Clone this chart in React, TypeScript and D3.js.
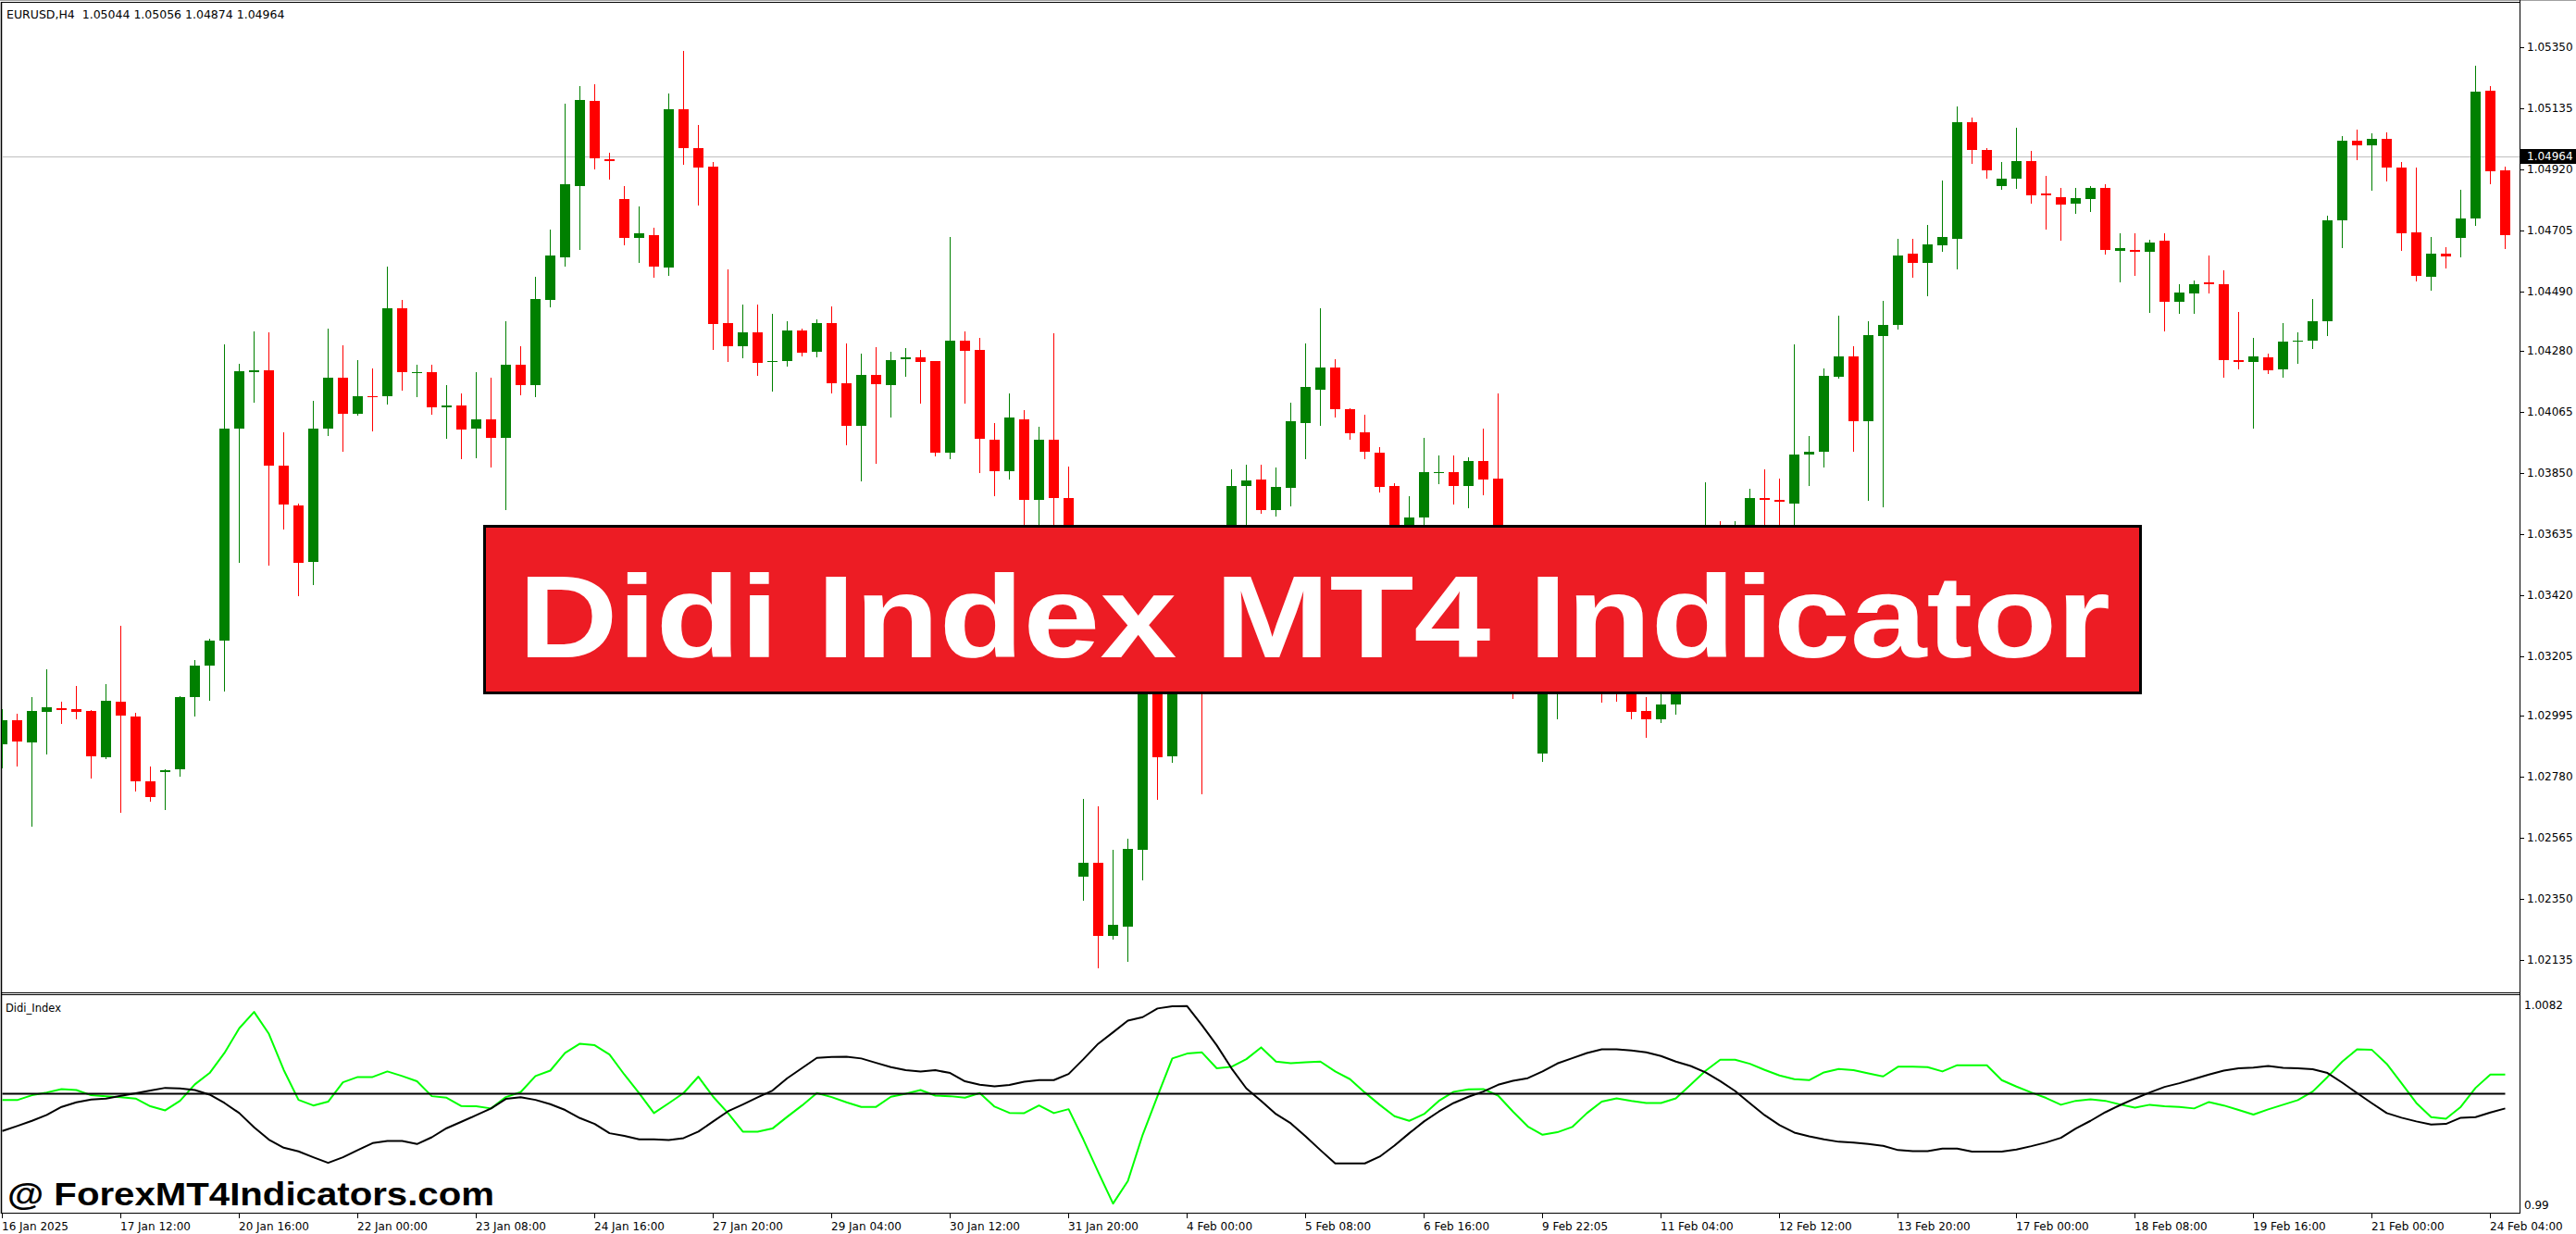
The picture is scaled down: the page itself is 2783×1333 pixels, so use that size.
import React from 'react';
import * as d3 from 'd3';

// ---------- data ----------
const header = 'EURUSD,H4  1.05044 1.05056 1.04874 1.04964';
const indicatorName = 'Didi_Index';
const watermark = '@ ForexMT4Indicators.com';
const bannerText = 'Didi Index MT4 Indicator';
const lastPrice = 1.04964;

const timeLabels = [
  '16 Jan 2025', '17 Jan 12:00', '20 Jan 16:00', '22 Jan 00:00', '23 Jan 08:00', '24 Jan 16:00',
  '27 Jan 20:00', '29 Jan 04:00', '30 Jan 12:00', '31 Jan 20:00', '4 Feb 00:00', '5 Feb 08:00',
  '6 Feb 16:00', '9 Feb 22:05', '11 Feb 04:00', '12 Feb 12:00', '13 Feb 20:00', '17 Feb 00:00',
  '18 Feb 08:00', '19 Feb 16:00', '21 Feb 00:00', '24 Feb 04:00',
];
const barsPerLabel = 8;

const priceTicks = [
  1.05350, 1.05135, 1.04920, 1.04705, 1.04490, 1.04280, 1.04065, 1.03850,
  1.03635, 1.03420, 1.03205, 1.02995, 1.02780, 1.02565, 1.02350, 1.02135,
];
const priceDomain = [1.02018, 1.05506];
const indicatorTicks = [1.0082, 0.99];
const indicatorLevel = 1.0;

const openP = [
  1.02894, 1.02980, 1.02903, 1.03008, 1.03021, 1.03019, 1.03011, 1.02848, 1.03045, 1.02993,
  1.02766, 1.02797, 1.02807, 1.03060, 1.03173, 1.03259, 1.04007, 1.04206, 1.04213, 1.03877,
  1.03737, 1.03538, 1.04007, 1.04185, 1.04059, 1.04122, 1.04120, 1.04431, 1.04202, 1.04206,
  1.04081, 1.04089, 1.04007, 1.04038, 1.03975, 1.04230, 1.04161, 1.04459, 1.04610, 1.04861,
  1.05162, 1.04956, 1.04816, 1.04677, 1.04688, 1.04574, 1.05131, 1.04995, 1.04930, 1.04379,
  1.04297, 1.04347, 1.04241, 1.04245, 1.04353, 1.04278, 1.04379, 1.04167, 1.04016, 1.04197,
  1.04161, 1.04252, 1.04256, 1.04243, 1.03921, 1.04316, 1.04282, 1.03968, 1.03856, 1.04040,
  1.03756, 1.03968, 1.03763, 1.02429, 1.02477, 1.02219, 1.02254, 1.02524, 1.03257, 1.02853,
  1.03300, 1.03473, 1.03344, 1.03538, 1.03806, 1.03826, 1.03718, 1.03798, 1.04027, 1.04143,
  1.04223, 1.04076, 1.03994, 1.03923, 1.03806, 1.03581, 1.03694, 1.03849, 1.03854, 1.03804,
  1.03893, 1.03832, 1.03365, 1.03149, 1.02861, 1.03149, 1.03192, 1.03235, 1.03171, 1.03149,
  1.03084, 1.03013, 1.02982, 1.03034, 1.03149, 1.03214, 1.03516, 1.03473, 1.03581, 1.03763,
  1.03756, 1.03743, 1.03914, 1.03925, 1.04189, 1.04262, 1.04033, 1.04332, 1.04370, 1.04621,
  1.04591, 1.04651, 1.04675, 1.05084, 1.04989, 1.04861, 1.04887, 1.04950, 1.04833, 1.04822,
  1.04798, 1.04816, 1.04853, 1.04634, 1.04636, 1.04630, 1.04667, 1.04453, 1.04483, 1.04522,
  1.04515, 1.04249, 1.04241, 1.04258, 1.04215, 1.04312, 1.04316, 1.04386, 1.04740, 1.05019,
  1.05004, 1.05028, 1.04926, 1.04699, 1.04541, 1.04621, 1.04677, 1.04747, 1.05196, 1.04917,
];
const highP = [
  1.03019, 1.03002, 1.03062, 1.03158, 1.03045, 1.03099, 1.03015, 1.03108, 1.03311, 1.03006,
  1.02818, 1.02807, 1.03065, 1.03192, 1.03268, 1.04303, 1.04236, 1.04349, 1.04347, 1.03994,
  1.03741, 1.04105, 1.04360, 1.04301, 1.04249, 1.04217, 1.04578, 1.04461, 1.04232, 1.04232,
  1.04161, 1.04130, 1.04206, 1.04185, 1.04383, 1.04295, 1.04541, 1.04708, 1.05151, 1.05211,
  1.05218, 1.04978, 1.04859, 1.04790, 1.04714, 1.05188, 1.05335, 1.05077, 1.04946, 1.04567,
  1.04444, 1.04444, 1.04412, 1.04386, 1.04357, 1.04392, 1.04437, 1.04308, 1.04271, 1.04293,
  1.04277, 1.04290, 1.04282, 1.04245, 1.04680, 1.04349, 1.04327, 1.04027, 1.04130, 1.04072,
  1.04012, 1.04342, 1.03873, 1.02704, 1.02678, 1.02522, 1.02563, 1.03300, 1.03365, 1.03344,
  1.03603, 1.03581, 1.03625, 1.03862, 1.03880, 1.03880, 1.03871, 1.04098, 1.04308, 1.04429,
  1.04252, 1.04079, 1.04057, 1.03940, 1.03815, 1.03767, 1.03973, 1.03912, 1.03912, 1.03906,
  1.04005, 1.04130, 1.03473, 1.03257, 1.03171, 1.03257, 1.03279, 1.03300, 1.03257, 1.03214,
  1.03149, 1.03062, 1.03073, 1.03171, 1.03257, 1.03819, 1.03681, 1.03681, 1.03795, 1.03862,
  1.03832, 1.04303, 1.03979, 1.04219, 1.04403, 1.04295, 1.04386, 1.04455, 1.04675, 1.04675,
  1.04725, 1.04881, 1.05142, 1.05103, 1.04993, 1.04946, 1.05067, 1.04984, 1.04898, 1.04855,
  1.04853, 1.04859, 1.04866, 1.04695, 1.04695, 1.04673, 1.04695, 1.04515, 1.04528, 1.04617,
  1.04565, 1.04416, 1.04327, 1.04269, 1.04379, 1.04347, 1.04463, 1.04757, 1.05038, 1.05060,
  1.05047, 1.05051, 1.04946, 1.04926, 1.04682, 1.04647, 1.04848, 1.05285, 1.05211, 1.04928,
];
const lowP = [
  1.02814, 1.02820, 1.02608, 1.02861, 1.02970, 1.02987, 1.02777, 1.02846, 1.02656, 1.02732,
  1.02697, 1.02667, 1.02784, 1.02995, 1.03052, 1.03084, 1.03538, 1.04100, 1.03527, 1.03653,
  1.03419, 1.03458, 1.03983, 1.03927, 1.04057, 1.04001, 1.04094, 1.04143, 1.04120, 1.04059,
  1.03975, 1.03901, 1.03906, 1.03873, 1.03722, 1.04128, 1.04120, 1.04437, 1.04580, 1.04638,
  1.04922, 1.04887, 1.04656, 1.04593, 1.04541, 1.04548, 1.04939, 1.04796, 1.04286, 1.04245,
  1.04258, 1.04195, 1.04139, 1.04228, 1.04265, 1.04260, 1.04133, 1.03951, 1.03823, 1.03886,
  1.04048, 1.04193, 1.04098, 1.03912, 1.03901, 1.04098, 1.03854, 1.03772, 1.03830, 1.03625,
  1.03646, 1.03603, 1.03560, 1.02347, 1.02109, 1.02211, 1.02133, 1.02420, 1.02704, 1.02833,
  1.03257, 1.02723, 1.03257, 1.03473, 1.03625, 1.03711, 1.03700, 1.03735, 1.03903, 1.04018,
  1.04048, 1.03971, 1.03901, 1.03785, 1.03560, 1.03538, 1.03635, 1.03815, 1.03743, 1.03730,
  1.03776, 1.03322, 1.03058, 1.03084, 1.02835, 1.02987, 1.03106, 1.03073, 1.03045, 1.03047,
  1.02987, 1.02922, 1.02974, 1.03002, 1.03106, 1.03171, 1.03365, 1.03430, 1.03538, 1.03603,
  1.03625, 1.03625, 1.03808, 1.03873, 1.04187, 1.03927, 1.03756, 1.03733, 1.04357, 1.04541,
  1.04476, 1.04632, 1.04569, 1.04941, 1.04889, 1.04850, 1.04853, 1.04803, 1.04712, 1.04673,
  1.04766, 1.04773, 1.04621, 1.04524, 1.04548, 1.04418, 1.04351, 1.04414, 1.04414, 1.04485,
  1.04189, 1.04219, 1.04009, 1.04202, 1.04189, 1.04239, 1.04290, 1.04336, 1.04645, 1.04954,
  1.04848, 1.04881, 1.04636, 1.04528, 1.04496, 1.04574, 1.04613, 1.04723, 1.04870, 1.04643,
];
const closeP = [
  1.02980, 1.02905, 1.03011, 1.03024, 1.03017, 1.03008, 1.02853, 1.03049, 1.02995, 1.02764,
  1.02710, 1.02805, 1.03062, 1.03173, 1.03261, 1.04007, 1.04210, 1.04213, 1.03875, 1.03739,
  1.03534, 1.04007, 1.04187, 1.04059, 1.04122, 1.04117, 1.04431, 1.04206, 1.04206, 1.04081,
  1.04089, 1.04003, 1.04038, 1.03975, 1.04232, 1.04161, 1.04463, 1.04615, 1.04866, 1.05164,
  1.04959, 1.04950, 1.04677, 1.04693, 1.04578, 1.05131, 1.04993, 1.04926, 1.04375, 1.04297,
  1.04347, 1.04239, 1.04245, 1.04353, 1.04273, 1.04377, 1.04167, 1.04016, 1.04197, 1.04163,
  1.04249, 1.04256, 1.04241, 1.03921, 1.04316, 1.04280, 1.03971, 1.03856, 1.04044, 1.03756,
  1.03966, 1.03763, 1.03592, 1.02477, 1.02219, 1.02258, 1.02528, 1.03257, 1.02848, 1.03300,
  1.03473, 1.03344, 1.03516, 1.03806, 1.03823, 1.03718, 1.03800, 1.04031, 1.04152, 1.04223,
  1.04074, 1.03990, 1.03925, 1.03802, 1.03603, 1.03694, 1.03852, 1.03854, 1.03804, 1.03893,
  1.03828, 1.03365, 1.03149, 1.03106, 1.03149, 1.03192, 1.03235, 1.03171, 1.03149, 1.03071,
  1.03008, 1.02982, 1.03034, 1.03149, 1.03214, 1.03516, 1.03473, 1.03581, 1.03763, 1.03754,
  1.03748, 1.03916, 1.03925, 1.04193, 1.04262, 1.04033, 1.04336, 1.04373, 1.04617, 1.04591,
  1.04654, 1.04680, 1.05084, 1.04987, 1.04915, 1.04887, 1.04950, 1.04829, 1.04827, 1.04796,
  1.04818, 1.04853, 1.04636, 1.04641, 1.04630, 1.04662, 1.04453, 1.04487, 1.04515, 1.04515,
  1.04247, 1.04241, 1.04260, 1.04213, 1.04314, 1.04316, 1.04386, 1.04740, 1.05019, 1.05004,
  1.05028, 1.04926, 1.04695, 1.04543, 1.04623, 1.04613, 1.04745, 1.05194, 1.04913, 1.04688,
];

const didiFast = [
  0.99946, 0.99946, 0.99987, 1.00010, 1.00039, 1.00031, 0.99987, 0.99979, 0.99971, 0.99959,
  0.99894, 0.99860, 0.99940, 1.00078, 1.00174, 1.00342, 1.00550, 1.00687, 1.00503, 1.00200,
  0.99948, 0.99901, 0.99933, 1.00096, 1.00140, 1.00140, 1.00187, 1.00148, 1.00104, 0.99979,
  0.99966, 0.99896, 0.99894, 0.99876, 0.99971, 1.00013, 1.00148, 1.00194, 1.00342, 1.00420,
  1.00407, 1.00329, 1.00161, 1.00005, 0.99837, 0.99920, 1.00005, 1.00143, 0.99974, 0.99837,
  0.99681, 0.99681, 0.99707, 0.99806, 0.99901, 1.00005, 0.99971, 0.99927, 0.99889, 0.99889,
  0.99974, 1.00000, 1.00031, 0.99984, 0.99979, 0.99966, 1.00005, 0.99891, 0.99839, 0.99837,
  0.99901, 0.99837, 0.99870, 0.99614, 0.99341, 0.99077, 0.99266, 0.99655, 0.99979, 1.00296,
  1.00337, 1.00347, 1.00213, 1.00226, 1.00290, 1.00389, 1.00270, 1.00257, 1.00264, 1.00270,
  1.00187, 1.00122, 1.00010, 0.99907, 0.99811, 0.99772, 0.99829, 0.99940, 1.00016, 1.00036,
  1.00039, 0.99984, 0.99850, 0.99725, 0.99655, 0.99676, 0.99720, 0.99837, 0.99933, 0.99961,
  0.99940, 0.99922, 0.99922, 0.99961, 1.00075, 1.00192, 1.00285, 1.00285, 1.00251, 1.00200,
  1.00153, 1.00122, 1.00114, 1.00179, 1.00207, 1.00197, 1.00171, 1.00145, 1.00226, 1.00226,
  1.00223, 1.00187, 1.00239, 1.00239, 1.00239, 1.00114, 1.00060, 1.00010, 0.99964, 0.99907,
  0.99940, 0.99953, 0.99940, 0.99909, 0.99883, 0.99907, 0.99894, 0.99889, 0.99876, 0.99930,
  0.99901, 0.99863, 0.99824, 0.99868, 0.99907, 0.99946, 1.00018, 1.00140, 1.00270, 1.00373,
  1.00368, 1.00251, 1.00088, 0.99922, 0.99803, 0.99790, 0.99889, 1.00049, 1.00161, 1.00161,
];
const didiSlow = [
  0.99686, 0.99728, 0.99772, 0.99821, 0.99889, 0.99927, 0.99951, 0.99959, 0.99982, 1.00003,
  1.00026, 1.00049, 1.00044, 1.00031, 0.99992, 0.99922, 0.99837, 0.99717, 0.99614, 0.99546,
  0.99515, 0.99466, 0.99419, 0.99466, 0.99526, 0.99585, 0.99603, 0.99603, 0.99577, 0.99634,
  0.99710, 0.99764, 0.99819, 0.99876, 0.99956, 0.99971, 0.99948, 0.99912, 0.99863, 0.99795,
  0.99746, 0.99668, 0.99645, 0.99616, 0.99616, 0.99611, 0.99627, 0.99681, 0.99767, 0.99852,
  0.99909, 0.99969, 1.00026, 1.00130, 1.00215, 1.00301, 1.00309, 1.00311, 1.00296, 1.00259,
  1.00223, 1.00197, 1.00187, 1.00197, 1.00174, 1.00104, 1.00075, 1.00062, 1.00073, 1.00101,
  1.00114, 1.00114, 1.00166, 1.00290, 1.00420, 1.00516, 1.00614, 1.00643, 1.00716, 1.00734,
  1.00736, 1.00576, 1.00407, 1.00213, 1.00044, 0.99940, 0.99829, 0.99751, 0.99642, 0.99526,
  0.99414, 0.99414, 0.99414, 0.99471, 0.99564, 0.99668, 0.99767, 0.99850, 0.99922, 0.99974,
  1.00018, 1.00075, 1.00109, 1.00130, 1.00187, 1.00254, 1.00298, 1.00342, 1.00373, 1.00373,
  1.00363, 1.00347, 1.00316, 1.00270, 1.00233, 1.00179, 1.00106, 1.00023, 0.99920, 0.99819,
  0.99736, 0.99673, 0.99642, 0.99616, 0.99596, 0.99590, 0.99577, 0.99562, 0.99526, 0.99518,
  0.99518, 0.99539, 0.99539, 0.99513, 0.99513, 0.99513, 0.99531, 0.99559, 0.99590, 0.99629,
  0.99707, 0.99772, 0.99844, 0.99904, 0.99959, 1.00010, 1.00057, 1.00088, 1.00124, 1.00161,
  1.00194, 1.00213, 1.00220, 1.00233, 1.00218, 1.00213, 1.00205, 1.00174, 1.00093, 1.00005,
  0.99920, 0.99837, 0.99798, 0.99767, 0.99741, 0.99746, 0.99798, 0.99803, 0.99842, 0.99876,
];

// ---------- component ----------
const W = 2783;
const H = 1333;
const PLOT_L = 1;
const PLOT_R = 2722;
const PRICE_TOP = 3;
const PRICE_BOTTOM = 1073;
const IND_TOP = 1075;
const IND_BOTTOM = 1310;
const BAR_STEP = 16;
const BODY_W = 11;

const UP = '#008000';
const DOWN = '#FF0000';
const AXIS_FONT = '"DejaVu Sans", "Liberation Sans", sans-serif';

export default function App() {
  const N = openP.length;
  const x = d3.scaleLinear().domain([0, N - 1]).range([2.5, 2.5 + BAR_STEP * (N - 1)]);
  const yP = d3.scaleLinear().domain(priceDomain).range([PRICE_BOTTOM, PRICE_TOP]);
  const yI = d3.scaleLinear().domain([indicatorTicks[1], indicatorTicks[0]]).range([IND_BOTTOM, IND_TOP + 1]);

  const line = d3
    .line<number>()
    .x((_, i) => x(i))
    .y((d) => yI(d));

  const candles = openP.map((o, i) => {
    const c = closeP[i];
    const hi = highP[i];
    const lo = lowP[i];
    const up = c >= o;
    const col = up ? UP : DOWN;
    const cx = Math.floor(x(i));
    const top = Math.round(yP(Math.max(o, c)));
    const bot = Math.round(yP(Math.min(o, c)));
    const hY = Math.round(yP(hi));
    const lY = Math.round(yP(lo));
    return (
      <g key={i}>
        <line x1={cx + 0.5} x2={cx + 0.5} y1={hY} y2={lY + 1} stroke={col} strokeWidth={1} />
        <rect x={cx - 5} y={top} width={BODY_W} height={Math.max(1, bot - top)} fill={col} />
      </g>
    );
  });

  const lastY = Math.round(yP(lastPrice));

  return (
    <svg
      width={W}
      height={H}
      viewBox={`0 0 ${W} ${H}`}
      style={{ position: 'absolute', left: 0, top: 0, background: '#fff' }}
    >
      <defs>
        <clipPath id="clipPrice">
          <rect x={PLOT_L + 1} y={PRICE_TOP + 1} width={PLOT_R - PLOT_L - 1} height={PRICE_BOTTOM - PRICE_TOP - 1} />
        </clipPath>
        <clipPath id="clipInd">
          <rect x={PLOT_L + 1} y={IND_TOP + 1} width={PLOT_R - PLOT_L - 1} height={IND_BOTTOM - IND_TOP - 1} />
        </clipPath>
      </defs>
      <rect x={0} y={0} width={W} height={H} fill="#fff" />

      {/* frames */}
      <line x1={0} x2={W} y1={0.5} y2={0.5} stroke="#a0a0a0" strokeWidth={1} />
      <line x1={PLOT_L} x2={PLOT_R} y1={PRICE_TOP - 0.5} y2={PRICE_TOP - 0.5} stroke="#000" strokeWidth={1} />
      <line x1={PLOT_L + 0.5} x2={PLOT_L + 0.5} y1={PRICE_TOP - 1} y2={IND_BOTTOM + 1} stroke="#000" strokeWidth={1.5} />
      <line x1={PLOT_R + 0.5} x2={PLOT_R + 0.5} y1={0} y2={IND_BOTTOM + 1} stroke="#000" strokeWidth={1} />
      <line x1={PLOT_L} x2={PLOT_R} y1={PRICE_BOTTOM - 0.5} y2={PRICE_BOTTOM - 0.5} stroke="#000" strokeWidth={1} />
      <line x1={PLOT_L} x2={PLOT_R} y1={IND_TOP - 0.5} y2={IND_TOP - 0.5} stroke="#000" strokeWidth={1} />
      <line x1={PLOT_L} x2={PLOT_R} y1={IND_BOTTOM + 0.5} y2={IND_BOTTOM + 0.5} stroke="#000" strokeWidth={1} />

      {/* header */}
      <text x={7} y={20} fontFamily={AXIS_FONT} fontSize={12.5} fill="#000" style={{ whiteSpace: 'pre' }}>
        {header}
      </text>

      {/* current price line */}
      <line x1={PLOT_L + 1} x2={PLOT_R} y1={lastY + 0.5} y2={lastY + 0.5} stroke="#c0c0c0" strokeWidth={1} />

      {/* candles */}
      <g clipPath="url(#clipPrice)" shapeRendering="crispEdges">{candles}</g>

      {/* price axis */}
      {priceTicks.map((v) => {
        const yy = Math.round(yP(v));
        return (
          <g key={v}>
            <line x1={PLOT_R + 1} x2={PLOT_R + 5} y1={yy + 0.5} y2={yy + 0.5} stroke="#000" />
            <text x={2730} y={yy} dy="0.36em" fontFamily={AXIS_FONT} fontSize={12} fill="#000">
              {v.toFixed(5)}
            </text>
          </g>
        );
      })}
      <rect x={PLOT_R + 1} y={lastY - 8} width={W - PLOT_R - 1} height={16} fill="#000" />
      <text x={2730} y={lastY} dy="0.36em" fontFamily={AXIS_FONT} fontSize={12} fill="#fff">
        {lastPrice.toFixed(5)}
      </text>

      {/* indicator */}
      <text x={6} y={1093} fontFamily={AXIS_FONT} fontSize={11.5} fill="#000">
        {indicatorName}
      </text>
      <g clipPath="url(#clipInd)" fill="none" strokeLinejoin="round">
        <path d={line(didiFast) || ''} stroke="#00FF00" strokeWidth={2} />
        <line
          x1={x(0)}
          x2={x(N - 1)}
          y1={yI(indicatorLevel)}
          y2={yI(indicatorLevel)}
          stroke="#000"
          strokeWidth={2}
        />
        <path d={line(didiSlow) || ''} stroke="#000" strokeWidth={2} />
      </g>
      <text x={2727} y={1086} dy="0.36em" fontFamily={AXIS_FONT} fontSize={12} fill="#000">
        {indicatorTicks[0].toFixed(4)}
      </text>
      <text x={2727} y={1302} dy="0.36em" fontFamily={AXIS_FONT} fontSize={12} fill="#000">
        {String(indicatorTicks[1])}
      </text>

      {/* time axis */}
      {timeLabels.map((t, k) => {
        const xx = Math.floor(x(k * barsPerLabel)) + 0.5;
        return (
          <g key={t}>
            <line x1={xx} x2={xx} y1={IND_BOTTOM + 1} y2={IND_BOTTOM + 6} stroke="#000" />
            <text x={xx - 0.5} y={1329} fontFamily={AXIS_FONT} fontSize={12} fill="#000">
              {t}
            </text>
          </g>
        );
      })}

      {/* watermark */}
      <text
        x={8}
        y={1302}
        fontFamily='"Liberation Sans", Arial, sans-serif'
        fontWeight="bold"
        fontSize={35}
        textLength={526}
        lengthAdjust="spacingAndGlyphs"
        fill="#000"
      >
        {watermark}
      </text>

      {/* banner */}
      <rect x={523.5} y={568.5} width={1789} height={180} fill="#ED1C24" stroke="#000" strokeWidth={3} />
      <text
        x={560}
        y={710}
        fontFamily='"Liberation Sans", Arial, sans-serif'
        fontWeight="bold"
        fontSize={127}
        textLength={1720}
        lengthAdjust="spacingAndGlyphs"
        fill="#fff"
      >
        {bannerText}
      </text>
    </svg>
  );
}
